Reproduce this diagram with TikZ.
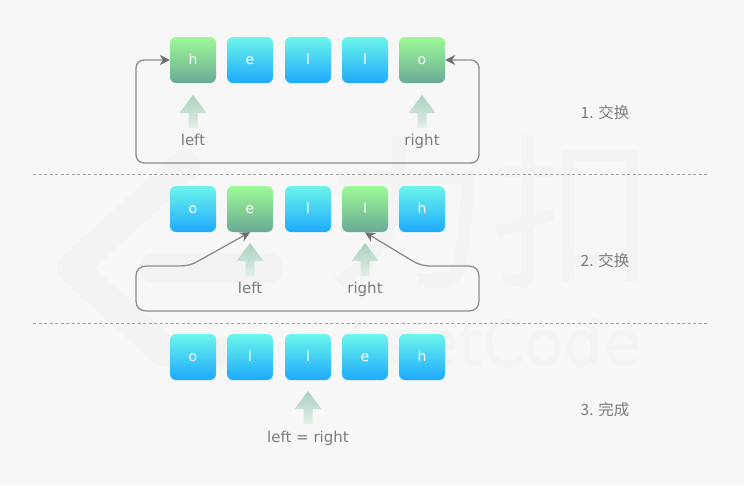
\documentclass[tikz,border=0pt]{standalone}
\usepackage{fontspec}
\usetikzlibrary{arrows.meta}
\setmainfont{DejaVu Sans}
\newfontfamily\cjk{Noto Sans CJK SC}
\definecolor{bgc}{HTML}{F7F7F7}
\definecolor{wmark}{HTML}{F3F3F3}
\definecolor{txt}{HTML}{7C7C7C}
\definecolor{conn}{HTML}{8C8C8C}
\definecolor{tipc}{HTML}{6E6E6E}
\tikzset{
  cblue/.style={minimum size=46pt,inner sep=0pt,rounded corners=6pt,text=white,font=\fontsize{14}{14}\selectfont,text height=8pt,text depth=0pt,shading angle=0,top color={rgb,255:red,108;green,245;blue,235},bottom color={rgb,255:red,30;green,170;blue,253}},
  cgreen/.style={cblue,top color={rgb,255:red,158;green,250;blue,150},bottom color={rgb,255:red,105;green,170;blue,150}},
  lab/.style={text=txt,font=\fontsize{15}{15}\selectfont,inner sep=0pt,text height=11pt,text depth=3pt},
  steplab/.style={text=txt,font=\cjk\fontsize{15.5}{16}\selectfont,inner sep=0pt},
  link/.style={draw=conn,line width=1.3pt,{Stealth[length=10pt,width=10pt,color=tipc]}-{Stealth[length=10pt,width=10pt,color=tipc]}},
  sep/.style={draw=conn!80,line width=0.8pt,dash pattern=on 3pt off 2.5pt},
  water/.style={text=wmark,inner sep=0pt}
}
\newcommand{\uparr}[2]{%
  \shade[bottom color={rgb,255:red,226;green,240;blue,230},top color={rgb,255:red,168;green,208;blue,190},shading angle=0]
   (#1,#2) -- ++(13.5,18) -- ++(-9,0) -- ++(0,15) -- ++(-9,0) -- ++(0,-15) -- ++(-9,0) -- cycle;}
\begin{document}
\begin{tikzpicture}[x=1pt,y=-1pt]
\useasboundingbox[fill=bgc] (0,0) rectangle (744,485);
% watermark
\draw[wmark,line width=30pt,line join=round,line cap=round] (185,165) -- (72,268) -- (165,352) -- (245,352);
\draw[wmark,line width=30pt,line cap=round] (155,268) -- (268,268);
\node[water,font=\cjk\fontsize{165}{165}\selectfont] (wm1) at (490,212) {力扣};
\node[water,font=\fontsize{62}{62}\selectfont] (wm2) at (495,342) {LeetCode};
% separators
\coordinate (s1a) at (33,174); \coordinate (s1b) at (708,174);
\coordinate (s2a) at (33,323); \coordinate (s2b) at (708,323);
\draw[sep] (s1a) -- (s1b);
\draw[sep] (s2a) -- (s2b);
% row 1
\node[cgreen] (a1) at (193,60) {h};
\node[cblue] (a2) at (250,60) {e};
\node[cblue] (a3) at (308,60) {l};
\node[cblue] (a4) at (365,60) {l};
\node[cgreen] (a5) at (422,60) {o};
% row 2
\node[cblue] (b1) at (193,209) {o};
\node[cgreen] (b2) at (250,209) {e};
\node[cblue] (b3) at (308,209) {l};
\node[cgreen] (b4) at (365,209) {l};
\node[cblue] (b5) at (422,209) {h};
% row 3
\node[cblue] (c1) at (193,357) {o};
\node[cblue] (c2) at (250,357) {l};
\node[cblue] (c3) at (308,357) {l};
\node[cblue] (c4) at (365,357) {e};
\node[cblue] (c5) at (422,357) {h};
% up arrows
\uparr{193}{95}\uparr{422}{95}\uparr{250}{243}\uparr{365}{243}\uparr{308}{391}
% labels
\node[lab] (l1) at (193,141) {left};
\node[lab] (r1) at (422,141) {right};
\node[lab] (l2) at (250,289) {left};
\node[lab] (r2) at (365,289) {right};
\node[lab] (lr) at (308,438) {left = right};
\node[steplab] (s1) at (605,113) {1. 交换};
\node[steplab] (s2) at (605,261) {2. 交换};
\node[steplab] (s3) at (605,410) {3. 完成};
% connectors
\draw[link,rounded corners=8pt] (a1.west) -- (136,60) -- (136,163) -- (479,163) -- (479,60) -- (a5.east);
\draw[link] (b2.south) -- (200,260) .. controls (192,265) and (187,266) .. (178,266)
  -- (146,266) .. controls (140,266) and (136,270) .. (136,276)
  -- (136,301) .. controls (136,307) and (140,311) .. (146,311)
  -- (469,311) .. controls (475,311) and (479,307) .. (479,301)
  -- (479,276) .. controls (479,270) and (475,266) .. (469,266)
  -- (432,266) .. controls (424,266) and (419,265) .. (411,260) -- (b4.south);
\end{tikzpicture}
\end{document}
